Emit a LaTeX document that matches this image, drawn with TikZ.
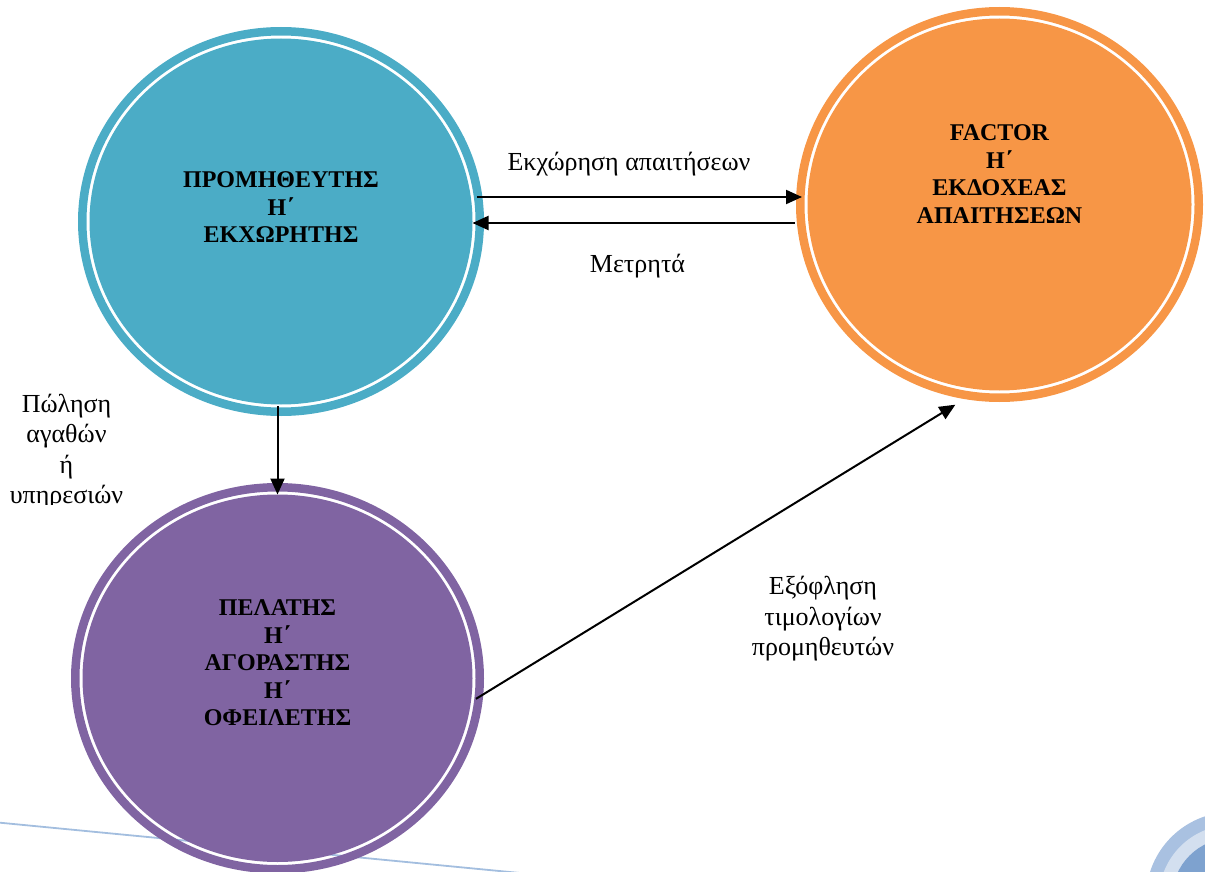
\documentclass[tikz,border=0pt]{standalone}
\usepackage{fontspec}
\setmainfont{Liberation Serif}
\usetikzlibrary{arrows.meta,shapes.geometric}
\definecolor{aquafill}{HTML}{4BACC6}
\definecolor{orangefill}{HTML}{F79646}
\definecolor{violetfill}{HTML}{8064A2}
\definecolor{paleline}{HTML}{A3BEDF}
\definecolor{decoA}{HTML}{A9C1E1}
\definecolor{decoB}{HTML}{D3DFEF}
\definecolor{decoC}{HTML}{7EA2CF}
\begin{document}
\begin{tikzpicture}[x=1pt,y=-1pt,
  disc/.style={ellipse, inner sep=0pt, outer sep=0pt, draw=none},
  title/.style={font=\fontsize{24}{27.5}\selectfont\bfseries, align=center, inner sep=0pt},
  caption/.style={font=\fontsize{26}{30.5}\selectfont, align=center, inner sep=0pt},
  arr/.style={line width=2pt, -{Triangle[length=16pt,width=14pt]}},
  band/.style={line width=8.5pt}]
\useasboundingbox (0,0) rectangle (1205,872);
\clip (0,0) rectangle (1205,872);

% faint slide line behind the lower circle
\draw[paleline, line width=1.8pt] (0,822.7) -- (520,873);

% supplier
\node[disc, fill=aquafill, minimum width=383pt, minimum height=366pt,
  label={[title, yshift=14.3pt]center:ΠΡΟΜΗΘΕΥΤΗΣ\\Η΄\\ΕΚΧΩΡΗΤΗΣ}] (blue) at (281,221.5) {};
\draw[band, aquafill] (blue.center) ellipse [x radius=198.75pt, y radius=190.25pt];

% factor
\node[disc, fill=orangefill, minimum width=384pt, minimum height=372pt,
  label={[title, yshift=30.5pt]center:FACTOR\\Η΄\\ΕΚΔΟΧΕΑΣ\\ΑΠΑΙΤΗΣΕΩΝ}] (orange) at (999.5,204.5) {};
\draw[band, orangefill] (orange.center) ellipse [x radius=199.25pt, y radius=193.25pt];

% customer
\node[disc, fill=violetfill, minimum width=390pt, minimum height=367.5pt,
  label={[title, yshift=15.5pt]center:ΠΕΛΑΤΗΣ\\Η΄\\ΑΓΟΡΑΣΤΗΣ\\Η΄\\ΟΦΕΙΛΕΤΗΣ}] (purple) at (277.5,678.25) {};
\draw[band, violetfill] (purple.center) ellipse [x radius=202.25pt, y radius=191pt];

% flows
\draw[arr, shorten <=4.5pt, shorten >=5.5pt] ([yshift=24.5pt]blue.east) -- ([yshift=7.5pt]orange.west);
\draw[arr, shorten <=12.5pt] ([yshift=-18.5pt]orange.west) -- ([yshift=-1.5pt]blue.east);
\draw[arr, shorten <=1.5pt] (blue.south -| purple.north) -- (purple.north);
\draw[arr, shorten <=6pt, shorten >=29pt] (purple.-7) -- (orange.-96);

% flow captions
\node[caption, anchor=base] (cession) at (629,171) {Εκχώρηση απαιτήσεων};
\node[caption, anchor=base] (cash) at (637.5,272) {Μετρητά};
\node[caption] (settle) at (823,619) {Εξόφληση\\τιμολογίων\\προμηθευτών};
\begin{scope}
  \clip (0,380) rectangle (200,504);
  \node[caption] (sale) at (66.5,451.5) {Πώληση\\αγαθών\\ή\\υπηρεσιών};
\end{scope}

% corner ornament
\fill[decoA] (1232,898) circle [radius=86pt];
\fill[decoB] (1232,898) circle [radius=73pt];
\fill[decoC] (1232,898) circle [radius=60pt];
\end{tikzpicture}
\end{document}
